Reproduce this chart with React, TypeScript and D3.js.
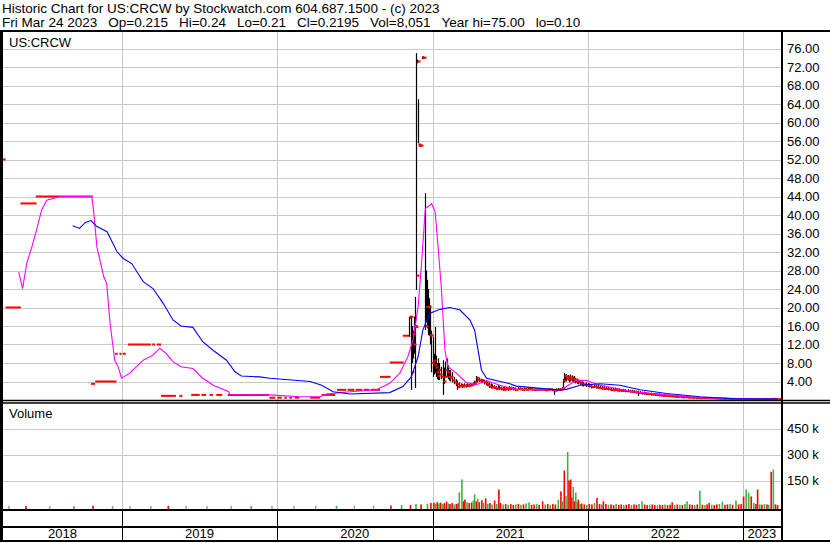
import React from "react";
import * as d3 from "d3";

// ---------- DATA ----------
const header1 = "Historic Chart for US:CRCW by Stockwatch.com 604.687.1500 - (c) 2023";
const header2 = "Fri Mar 24 2023  Op=0.215  Hi=0.24  Lo=0.21  Cl=0.2195  Vol=8,051  Year hi=75.00  lo=0.10";
const symbol = "US:CRCW";
const priceTicks = [4, 8, 12, 16, 20, 24, 28, 32, 36, 40, 44, 48, 52, 56, 60, 64, 68, 72, 76];
const volumeTicks = [150000, 300000, 450000];
const years = ["2018", "2019", "2020", "2021", "2022", "2023"];

// flat close runs during thin trading: [start, end, close]
const closeRuns: [string, string, number][] = [
  ["2018-03-24", "2018-04-02", 52],
  ["2018-04-02", "2018-05-08", 20],
  ["2018-05-07", "2018-06-14", 42.5],
  ["2018-06-12", "2018-10-24", 44],
  ["2018-10-20", "2018-10-30", 3.5],
  ["2018-10-30", "2018-12-19", 4.0],
  ["2018-12-16", "2018-12-22", 10],
  ["2018-12-26", "2018-12-31", 10],
  ["2019-01-03", "2019-01-10", 10],
  ["2019-01-15", "2019-03-10", 12],
  ["2019-03-13", "2019-03-20", 12],
  ["2019-03-24", "2019-04-03", 12],
  ["2019-04-03", "2019-05-08", 0.9],
  ["2019-05-16", "2019-05-23", 0.9],
  ["2019-06-13", "2019-07-03", 1.1],
  ["2019-07-07", "2019-07-18", 1.1],
  ["2019-07-26", "2019-08-03", 1.1],
  ["2019-08-11", "2019-08-25", 1.1],
  ["2019-09-07", "2019-12-13", 1.1],
  ["2019-12-14", "2019-12-28", 0.5],
  ["2020-01-02", "2020-01-12", 0.5],
  ["2020-01-18", "2020-01-24", 0.5],
  ["2020-01-30", "2020-02-05", 0.5],
  ["2020-02-12", "2020-02-22", 0.5],
  ["2020-03-19", "2020-04-11", 0.5],
  ["2020-04-15", "2020-05-17", 1.1],
  ["2020-05-21", "2020-06-12", 2.2],
  ["2020-06-15", "2020-07-01", 2.2],
  ["2020-07-04", "2020-07-20", 2.2],
  ["2020-07-23", "2020-08-05", 2.2],
  ["2020-08-08", "2020-08-30", 2.2],
  ["2020-08-30", "2020-09-24", 5.0],
  ["2020-09-22", "2020-10-25", 8.1],
  ["2020-10-23", "2020-11-08", 13.9],
];

// daily bars: [date, high, low, close]
const bars: [string, number, number, number][] = [
  ["2020-11-06", 18.0, 13.7, 17.9],
  ["2020-11-09", 18.2, 17.6, 18.0],
  ["2020-11-12", 18.0, 2.2, 6.0],
  ["2020-11-14", 16.0, 8.0, 14.2],
  ["2020-11-17", 15.0, 9.0, 12.0],
  ["2020-11-19", 18.0, 10.0, 16.0],
  ["2020-11-21", 22.3, 2.6, 15.8],
  ["2020-11-23", 75.0, 23.8, 26.9],
  ["2020-11-26", 73.6, 72.8, 73.2],
  ["2020-11-28", 65.0, 55.5, 55.2],
  ["2020-12-01", 55.4, 54.8, 55.0],
  ["2020-12-03", 55.4, 54.8, 55.0],
  ["2020-12-07", 74.3, 73.7, 74.0],
  ["2020-12-10", 74.3, 73.7, 74.0],
  ["2020-12-15", 44.7, 15.1, 16.0],
  ["2020-12-16", 28.0, 17.0, 20.1],
  ["2020-12-18", 26.0, 15.5, 20.1],
  ["2020-12-21", 24.0, 14.0, 20.1],
  ["2020-12-23", 22.0, 13.9, 13.9],
  ["2020-12-26", 20.5, 12.0, 14.0],
  ["2020-12-29", 15.0, 6.0, 8.0],
  ["2021-01-01", 13.7, 5.0, 8.5],
  ["2021-01-04", 10.0, 5.5, 7.5],
  ["2021-01-07", 15.8, 5.8, 7.0],
  ["2021-01-09", 9.6, 5.0, 6.0],
  ["2021-01-12", 8.0, 4.5, 5.2],
  ["2021-01-14", 9.0, 4.3, 6.5],
  ["2021-01-17", 8.0, 4.3, 5.5],
  ["2021-01-20", 7.2, 4.5, 5.0],
  ["2021-01-26", 8.6, 1.1, 4.0],
  ["2021-01-28", 7.0, 3.5, 5.0],
  ["2021-01-31", 8.3, 5.0, 6.5],
  ["2021-02-03", 9.0, 5.0, 6.0],
  ["2021-02-06", 7.5, 4.5, 5.0],
  ["2021-02-09", 6.5, 4.2, 4.8],
  ["2021-02-12", 6.5, 4.0, 5.0],
  ["2021-02-16", 6.0, 3.8, 4.2],
  ["2021-02-20", 5.0, 3.4, 3.8],
  ["2021-02-24", 4.5, 3.0, 3.4],
  ["2021-02-28", 4.2, 2.2, 2.8],
  ["2021-03-04", 3.8, 2.6, 3.0],
  ["2021-03-08", 3.6, 2.8, 3.2],
  ["2021-03-12", 3.5, 2.6, 2.9],
  ["2021-03-16", 3.6, 2.8, 3.1],
  ["2021-03-20", 3.4, 2.7, 3.0],
  ["2021-03-24", 3.6, 2.9, 3.2],
  ["2021-03-28", 3.5, 2.8, 3.1],
  ["2021-04-01", 3.6, 3.0, 3.3],
  ["2021-04-05", 3.8, 3.0, 3.5],
  ["2021-04-09", 4.2, 3.3, 3.9],
  ["2021-04-13", 5.2, 3.6, 4.8],
  ["2021-04-16", 5.0, 3.8, 4.4],
  ["2021-04-20", 4.8, 3.9, 4.2],
  ["2021-04-24", 4.6, 3.8, 4.3],
  ["2021-04-28", 4.5, 3.7, 4.0],
  ["2021-05-02", 4.3, 3.4, 3.8],
  ["2021-05-06", 4.2, 3.2, 3.5],
  ["2021-05-10", 4.0, 3.0, 3.2],
  ["2021-05-14", 3.8, 2.6, 2.9],
  ["2021-05-18", 3.6, 2.5, 2.7],
  ["2021-05-22", 3.4, 2.5, 2.8],
  ["2021-05-26", 3.2, 2.4, 2.6],
  ["2021-05-30", 3.0, 2.2, 2.4],
  ["2021-06-03", 3.2, 2.3, 2.6],
  ["2021-06-07", 3.0, 2.2, 2.5],
  ["2021-06-11", 2.9, 2.1, 2.3],
  ["2021-06-15", 2.8, 2.0, 2.2],
  ["2021-06-19", 2.9, 2.2, 2.5],
  ["2021-06-23", 2.8, 2.1, 2.4],
  ["2021-06-27", 2.7, 2.0, 2.3],
  ["2021-07-01", 3.0, 2.2, 2.6],
  ["2021-07-05", 2.9, 2.2, 2.5],
  ["2021-07-10", 2.8, 2.1, 2.3],
  ["2021-07-15", 2.7, 2.0, 2.2],
  ["2021-07-20", 2.8, 2.2, 2.4],
  ["2021-07-25", 2.7, 2.1, 2.3],
  ["2021-07-30", 2.6, 2.0, 2.2],
  ["2021-08-04", 2.7, 2.1, 2.4],
  ["2021-08-09", 2.6, 2.0, 2.2],
  ["2021-08-14", 2.7, 2.2, 2.4],
  ["2021-08-19", 2.6, 2.1, 2.3],
  ["2021-08-24", 2.6, 2.0, 2.2],
  ["2021-08-29", 2.5, 2.0, 2.2],
  ["2021-09-03", 2.6, 2.1, 2.3],
  ["2021-09-08", 2.5, 2.0, 2.2],
  ["2021-09-13", 2.6, 2.1, 2.3],
  ["2021-09-18", 2.5, 2.0, 2.2],
  ["2021-09-23", 2.4, 1.9, 2.1],
  ["2021-09-28", 2.5, 2.0, 2.2],
  ["2021-10-03", 2.6, 2.0, 2.3],
  ["2021-10-08", 2.5, 1.9, 2.1],
  ["2021-10-13", 2.4, 1.1, 2.0],
  ["2021-10-18", 2.5, 2.0, 2.2],
  ["2021-10-23", 2.6, 2.0, 2.3],
  ["2021-10-28", 2.5, 2.0, 2.2],
  ["2021-11-01", 2.8, 2.2, 2.6],
  ["2021-11-04", 4.5, 2.5, 4.2],
  ["2021-11-06", 5.8, 3.8, 5.2],
  ["2021-11-09", 5.5, 4.2, 5.0],
  ["2021-11-12", 5.6, 4.0, 4.6],
  ["2021-11-15", 5.4, 4.2, 5.0],
  ["2021-11-18", 5.2, 3.8, 4.4],
  ["2021-11-21", 5.5, 4.0, 4.8],
  ["2021-11-24", 5.3, 4.0, 4.5],
  ["2021-11-27", 5.0, 3.8, 4.3],
  ["2021-11-30", 5.2, 3.8, 4.4],
  ["2021-12-03", 4.8, 3.6, 4.0],
  ["2021-12-06", 4.6, 3.5, 4.1],
  ["2021-12-10", 4.4, 3.4, 3.8],
  ["2021-12-14", 4.3, 3.2, 3.6],
  ["2021-12-18", 4.1, 3.0, 3.4],
  ["2021-12-22", 3.9, 2.9, 3.3],
  ["2021-12-27", 3.8, 2.8, 3.2],
  ["2022-01-01", 3.7, 2.8, 3.1],
  ["2022-01-05", 3.6, 2.7, 3.0],
  ["2022-01-10", 3.5, 2.5, 2.8],
  ["2022-01-15", 3.4, 2.6, 2.9],
  ["2022-01-20", 3.3, 2.5, 2.7],
  ["2022-01-25", 3.2, 2.4, 2.6],
  ["2022-01-30", 3.2, 2.4, 2.5],
  ["2022-02-04", 3.0, 2.3, 2.5],
  ["2022-02-09", 3.1, 2.2, 2.4],
  ["2022-02-14", 2.9, 2.2, 2.4],
  ["2022-02-19", 2.8, 2.1, 2.3],
  ["2022-02-24", 2.7, 2.0, 2.2],
  ["2022-03-01", 2.6, 1.9, 2.1],
  ["2022-03-06", 2.7, 2.0, 2.2],
  ["2022-03-11", 2.5, 1.9, 2.0],
  ["2022-03-16", 2.5, 1.9, 2.1],
  ["2022-03-21", 2.4, 1.8, 2.0],
  ["2022-03-26", 2.4, 1.8, 2.0],
  ["2022-03-31", 2.3, 1.7, 1.9],
  ["2022-04-05", 2.3, 1.7, 1.9],
  ["2022-04-10", 2.2, 1.6, 1.8],
  ["2022-04-15", 2.2, 1.6, 1.8],
  ["2022-04-20", 2.1, 1.5, 1.7],
  ["2022-04-25", 2.0, 1.4, 1.6],
  ["2022-04-29", 2.0, 0.9, 1.5],
  ["2022-05-04", 1.9, 1.3, 1.5],
  ["2022-05-09", 1.8, 1.2, 1.4],
  ["2022-05-14", 1.8, 1.2, 1.4],
  ["2022-05-19", 1.7, 1.1, 1.3],
  ["2022-05-24", 1.6, 1.1, 1.3],
  ["2022-05-29", 1.6, 1.0, 1.2],
  ["2022-06-03", 1.5, 1.0, 1.2],
  ["2022-06-08", 1.5, 0.9, 1.1],
  ["2022-06-13", 1.4, 0.9, 1.1],
  ["2022-06-18", 1.4, 0.8, 1.0],
  ["2022-06-23", 1.3, 0.8, 1.0],
  ["2022-06-28", 1.3, 0.7, 0.9],
  ["2022-07-03", 1.2, 0.8, 0.9],
  ["2022-07-08", 1.2, 0.7, 0.9],
  ["2022-07-13", 1.1, 0.6, 0.8],
  ["2022-07-18", 1.1, 0.6, 0.8],
  ["2022-07-23", 1.0, 0.6, 0.7],
  ["2022-07-28", 1.0, 0.5, 0.7],
  ["2022-08-02", 1.0, 0.5, 0.7],
  ["2022-08-08", 0.9, 0.5, 0.6],
  ["2022-08-14", 0.9, 0.4, 0.6],
  ["2022-08-20", 0.8, 0.4, 0.6],
  ["2022-08-26", 0.8, 0.4, 0.5],
  ["2022-09-01", 0.7, 0.4, 0.5],
  ["2022-09-07", 0.7, 0.3, 0.5],
  ["2022-09-13", 0.7, 0.3, 0.4],
  ["2022-09-19", 0.6, 0.3, 0.4],
  ["2022-09-25", 0.6, 0.3, 0.4],
  ["2022-10-01", 0.6, 0.3, 0.4],
  ["2022-10-08", 0.5, 0.3, 0.4],
  ["2022-10-15", 0.5, 0.3, 0.35],
  ["2022-10-22", 0.5, 0.25, 0.35],
  ["2022-10-29", 0.45, 0.25, 0.3],
  ["2022-11-05", 0.45, 0.25, 0.3],
  ["2022-11-12", 0.4, 0.2, 0.3],
  ["2022-11-19", 0.4, 0.2, 0.3],
  ["2022-11-26", 0.4, 0.2, 0.25],
  ["2022-12-03", 0.35, 0.2, 0.25],
  ["2022-12-10", 0.35, 0.18, 0.25],
  ["2022-12-17", 0.3, 0.15, 0.2],
  ["2022-12-24", 0.3, 0.15, 0.2],
  ["2022-12-31", 0.3, 0.15, 0.2],
  ["2023-01-07", 0.3, 0.15, 0.2],
  ["2023-01-14", 0.28, 0.12, 0.2],
  ["2023-01-21", 0.28, 0.12, 0.18],
  ["2023-01-28", 0.25, 0.12, 0.18],
  ["2023-02-04", 0.3, 0.12, 0.2],
  ["2023-02-11", 0.28, 0.12, 0.2],
  ["2023-02-18", 0.3, 0.15, 0.22],
  ["2023-02-25", 0.28, 0.14, 0.2],
  ["2023-03-04", 0.3, 0.15, 0.22],
  ["2023-03-11", 0.35, 0.15, 0.25],
  ["2023-03-18", 0.3, 0.18, 0.22],
  ["2023-03-24", 0.24, 0.21, 0.2195],
];

// short moving average (magenta)
const maShort: [string, number][] = [
  ["2018-05-03", 27.7], ["2018-05-12", 24.1], ["2018-05-22", 29.6], ["2018-06-03", 33.1],
  ["2018-06-14", 36.8], ["2018-06-26", 41.1], ["2018-07-08", 43.2], ["2018-08-09", 44.0],
  ["2018-10-22", 44.0], ["2018-10-26", 41.1], ["2018-11-03", 33.1], ["2018-11-19", 26.7],
  ["2018-11-26", 25.2], ["2018-12-04", 16.6], ["2018-12-15", 8.6], ["2018-12-23", 7.2],
  ["2018-12-31", 4.7], ["2019-01-19", 5.8], ["2019-02-20", 8.6], ["2019-03-15", 9.7],
  ["2019-03-31", 11.2], ["2019-04-15", 10.1], ["2019-05-01", 8.3], ["2019-05-20", 7.2],
  ["2019-06-17", 6.8], ["2019-07-10", 4.7], ["2019-08-04", 3.2], ["2019-09-09", 1.8],
  ["2019-09-12", 1.2], ["2019-12-15", 1.1], ["2020-02-24", 0.7], ["2020-04-11", 0.7],
  ["2020-04-27", 1.3], ["2020-06-21", 1.8], ["2020-08-22", 2.2], ["2020-09-22", 3.6],
  ["2020-10-16", 5.8], ["2020-11-04", 9.4], ["2020-11-16", 13.0], ["2020-11-28", 20.2],
  ["2020-12-06", 29.5], ["2020-12-15", 41.4], ["2020-12-30", 42.4], ["2021-01-07", 40.7],
  ["2021-01-14", 33.1], ["2021-01-22", 23.8], ["2021-01-30", 10.8], ["2021-02-06", 7.2],
  ["2021-02-26", 5.8], ["2021-03-21", 3.8], ["2021-04-14", 3.3], ["2021-05-08", 4.2],
  ["2021-06-08", 3.2], ["2021-07-17", 2.3], ["2021-10-28", 2.2], ["2021-11-12", 2.9],
  ["2021-12-06", 4.3], ["2021-12-30", 4.2], ["2022-01-30", 3.2], ["2022-04-18", 1.8],
  ["2022-07-06", 1.1], ["2022-09-22", 0.5], ["2022-12-08", 0.2], ["2023-03-24", 0.2],
];

// long moving average (blue)
const maLong: [string, number][] = [
  ["2018-09-07", 37.7], ["2018-09-23", 37.1], ["2018-10-07", 38.4], ["2018-10-20", 38.8],
  ["2018-11-03", 37.5], ["2018-11-27", 36.4], ["2018-12-20", 32.1], ["2019-01-04", 30.6],
  ["2019-01-24", 29.5], ["2019-02-20", 25.6], ["2019-03-15", 24.1], ["2019-04-08", 20.9],
  ["2019-05-01", 17.3], ["2019-05-20", 16.0], ["2019-06-17", 15.7], ["2019-07-10", 12.6],
  ["2019-08-04", 10.7], ["2019-09-04", 8.6], ["2019-09-24", 6.1], ["2019-10-09", 5.2],
  ["2019-11-21", 5.0], ["2019-12-15", 4.7], ["2020-03-19", 4.0], ["2020-04-15", 3.2],
  ["2020-05-12", 1.8], ["2020-06-21", 1.3], ["2020-09-22", 1.6], ["2020-10-23", 2.9],
  ["2020-11-12", 5.0], ["2020-11-28", 9.4], ["2020-12-09", 15.1], ["2020-12-25", 18.7],
  ["2021-01-18", 19.6], ["2021-02-10", 20.0], ["2021-03-06", 19.5], ["2021-03-30", 17.3],
  ["2021-04-10", 15.1], ["2021-04-18", 10.8], ["2021-04-26", 6.5], ["2021-05-08", 4.7],
  ["2021-07-02", 3.5], ["2021-07-17", 3.0], ["2021-10-20", 2.2], ["2021-11-12", 2.3],
  ["2021-12-14", 3.2], ["2022-01-30", 3.5], ["2022-03-18", 3.2], ["2022-05-04", 2.2],
  ["2022-07-06", 1.4], ["2022-09-22", 0.7], ["2022-12-08", 0.3], ["2023-03-24", 0.2],
];

// volume: [date, volume, direction 1=up, -1=down, 0=unchanged]
const volumes: [string, number, number][] = [
  ["2018-04-10", 4000, 0], ["2018-05-20", 3000, -1], ["2018-07-15", 2500, 0], ["2018-09-10", 3000, 1],
  ["2018-10-25", 5000, -1], ["2018-12-10", 3000, 0], ["2019-01-20", 2500, 0], ["2019-03-10", 3500, 0],
  ["2019-04-20", 4000, -1], ["2019-06-01", 3000, 0], ["2019-07-20", 3500, 0], ["2019-09-15", 4000, 0],
  ["2019-11-01", 3000, 1], ["2019-12-20", 3500, 0], ["2020-02-10", 3000, 0], ["2020-04-01", 4000, 0],
  ["2020-05-20", 4500, 1], ["2020-07-01", 4000, 0], ["2020-08-15", 5000, 0], ["2020-09-25", 6000, -1],
  ["2020-10-20", 8000, 1], ["2020-11-10", 9000, -1], ["2020-11-23", 14000, 1], ["2020-12-05", 12000, -1],
  ["2020-12-20", 15000, 1], ["2020-12-28", 20000, -1], ["2021-01-04", 22000, -1], ["2021-01-08", 15000, 1],
  ["2021-01-12", 25000, -1], ["2021-01-16", 18000, 1], ["2021-01-20", 22000, -1], ["2021-01-25", 15000, 1],
  ["2021-01-29", 20000, -1], ["2021-02-03", 28000, -1], ["2021-02-07", 18000, 1], ["2021-02-11", 14000, -1],
  ["2021-02-16", 20000, -1], ["2021-02-21", 12000, 1], ["2021-02-26", 15000, -1], ["2021-03-02", 18000, -1],
  ["2021-03-05", 82000, 1], ["2021-03-11", 156000, 1], ["2021-03-15", 30000, -1], ["2021-03-18", 40000, -1],
  ["2021-03-23", 25000, 1], ["2021-03-28", 20000, -1], ["2021-04-03", 22000, -1], ["2021-04-07", 35000, 1],
  ["2021-04-10", 70000, 1], ["2021-04-14", 30000, -1], ["2021-04-17", 45000, 1], ["2021-04-21", 25000, -1],
  ["2021-04-27", 36000, -1], ["2021-05-01", 20000, 1], ["2021-05-06", 47000, -1], ["2021-05-11", 15000, 1],
  ["2021-05-16", 20000, -1], ["2021-05-21", 12000, 1], ["2021-05-27", 35000, -1], ["2021-06-01", 15000, 1],
  ["2021-06-06", 98000, -1], ["2021-06-10", 20000, -1], ["2021-06-16", 12000, 1], ["2021-06-22", 15000, -1],
  ["2021-06-28", 10000, 1], ["2021-07-04", 14000, -1], ["2021-07-10", 9000, -1], ["2021-07-16", 12000, 1],
  ["2021-07-22", 15000, -1], ["2021-07-28", 10000, 1], ["2021-08-03", 12000, -1], ["2021-08-09", 18000, 1],
  ["2021-08-16", 24000, 1], ["2021-08-22", 10000, -1], ["2021-08-28", 12000, -1], ["2021-09-03", 15000, 1],
  ["2021-09-09", 10000, -1], ["2021-09-17", 30000, -1], ["2021-09-23", 12000, 1], ["2021-09-29", 15000, -1],
  ["2021-10-05", 10000, 1], ["2021-10-11", 14000, -1], ["2021-10-17", 12000, -1], ["2021-10-24", 40000, 1],
  ["2021-10-30", 87000, -1], ["2021-11-03", 30000, 1], ["2021-11-07", 207000, -1], ["2021-11-11", 60000, 1],
  ["2021-11-15", 315000, 1], ["2021-11-18", 150000, -1], ["2021-11-22", 156000, -1], ["2021-11-25", 50000, -1],
  ["2021-11-28", 113000, 1], ["2021-12-01", 30000, -1], ["2021-12-04", 80000, 1], ["2021-12-07", 25000, 1],
  ["2021-12-10", 40000, -1], ["2021-12-14", 15000, 1], ["2021-12-18", 17000, -1], ["2021-12-24", 12000, -1],
  ["2021-12-30", 10000, 1], ["2022-01-05", 15000, -1], ["2022-01-11", 12000, -1], ["2022-01-17", 20000, 1],
  ["2022-01-23", 50000, -1], ["2022-01-29", 14000, -1], ["2022-02-03", 12000, 1], ["2022-02-07", 30000, -1],
  ["2022-02-13", 15000, -1], ["2022-02-19", 10000, 1], ["2022-02-25", 12000, -1], ["2022-03-03", 8000, -1],
  ["2022-03-09", 15000, 1], ["2022-03-15", 10000, -1], ["2022-03-21", 12000, -1], ["2022-03-27", 8000, 1],
  ["2022-04-02", 10000, -1], ["2022-04-08", 14000, -1], ["2022-04-14", 8000, 1], ["2022-04-20", 12000, -1],
  ["2022-04-26", 10000, -1], ["2022-05-02", 15000, 1], ["2022-05-09", 30000, 1], ["2022-05-15", 12000, -1],
  ["2022-05-21", 8000, -1], ["2022-05-27", 10000, 1], ["2022-06-02", 12000, -1], ["2022-06-08", 8000, -1],
  ["2022-06-14", 6000, 1], ["2022-06-20", 10000, -1], ["2022-06-26", 8000, -1], ["2022-07-02", 12000, 1],
  ["2022-07-08", 8000, -1], ["2022-07-14", 10000, -1], ["2022-07-19", 24000, -1], ["2022-07-25", 8000, 1],
  ["2022-07-31", 12000, -1], ["2022-08-06", 10000, 1], ["2022-08-12", 8000, -1], ["2022-08-18", 15000, 1],
  ["2022-08-23", 30000, 1], ["2022-08-29", 12000, -1], ["2022-09-04", 10000, -1], ["2022-09-10", 8000, 1],
  ["2022-09-16", 12000, -1], ["2022-09-22", 92000, 1], ["2022-09-28", 10000, -1], ["2022-10-04", 8000, 1],
  ["2022-10-09", 12000, -1], ["2022-10-14", 20000, -1], ["2022-10-20", 10000, 1], ["2022-10-26", 8000, -1],
  ["2022-11-01", 12000, -1], ["2022-11-07", 15000, 1], ["2022-11-14", 28000, 1], ["2022-11-20", 10000, -1],
  ["2022-11-26", 12000, -1], ["2022-12-02", 15000, 1], ["2022-12-08", 10000, -1], ["2022-12-16", 35000, 1],
  ["2022-12-22", 12000, -1], ["2022-12-28", 15000, -1], ["2023-01-03", 58000, -1], ["2023-01-09", 98000, 1],
  ["2023-01-15", 80000, 1], ["2023-01-21", 58000, -1], ["2023-01-27", 20000, 1], ["2023-02-01", 15000, -1],
  ["2023-02-05", 98000, -1], ["2023-02-10", 12000, 1], ["2023-02-15", 10000, -1], ["2023-02-21", 15000, 1],
  ["2023-02-27", 12000, -1], ["2023-03-03", 10000, 1], ["2023-03-09", 200000, -1], ["2023-03-14", 213000, 1],
  ["2023-03-19", 12000, -1], ["2023-03-24", 8051, -1],
];

// ---------- LAYOUT ----------
const W = 830, H = 543;
const L = 3, R = 781;
const priceTop = 31, priceBottom = 400;
const volTop = 403, volBottom = 510;
const stripBottom = 527, chartBottom = 541;
const FONT = "Arial, 'Liberation Sans', sans-serif";

const parse = d3.timeParse("%Y-%m-%d");
const pd = (s: string) => parse(s) as Date;

export default function App() {
  const x = d3.scaleTime().domain([pd("2018-03-27"), pd("2023-04-01")]).range([L, R]);
  const yP = d3.scaleLinear().domain([0, 76]).range([priceBottom, 48.5]);
  const yV = d3.scaleLinear().domain([0, 450000]).range([506.5, 428.5]);

  const yearStarts = years.map((y) => pd(`${y}-01-01`));
  const boundaries = yearStarts.slice(1).map((d) => x(d));
  const yearCenters = years.map((y, i) => {
    const a = Math.max(L, x(yearStarts[i]));
    const b = i < years.length - 1 ? x(yearStarts[i + 1]) : R;
    return (a + b) / 2;
  });

  const line = d3
    .line<[string, number]>()
    .x((d) => x(pd(d[0])))
    .y((d) => yP(d[1]));

  const grid = "#c8c8c8";
  const greenVol = "#44b044";
  const headerParts = header2.split("  ");

  return (
    <svg
      width={W}
      height={H}
      style={{ position: "absolute", left: 0, top: 0, background: "#fff" }}
      fontFamily={FONT}
    >
      <defs>
        <clipPath id="priceClip">
          <rect x={L} y={priceTop + 1} width={R - L} height={priceBottom - priceTop - 1} />
        </clipPath>
        <clipPath id="volClip">
          <rect x={L} y={volTop + 1} width={R - L} height={volBottom - volTop - 2} />
        </clipPath>
      </defs>
      <rect x={0} y={0} width={W} height={H} fill="#fff" />

      {/* header */}
      <text x={2} y={13} fontSize={13.5} fill="#000">{header1}</text>
      <text x={2} y={26.5} fontSize={13.5} fill="#000">
        {headerParts.map((p, i) => (
          <tspan key={"hp" + i} dx={i === 0 ? 0 : 11}>{p}</tspan>
        ))}
      </text>

      {/* gridlines */}
      {priceTicks.map((t) => (
        <line key={"pg" + t} x1={L} x2={R} y1={Math.round(yP(t)) + 0.5} y2={Math.round(yP(t)) + 0.5} stroke={grid} />
      ))}
      {boundaries.map((bx, i) => (
        <line key={"vg" + i} x1={Math.round(bx) + 0.5} x2={Math.round(bx) + 0.5} y1={priceTop} y2={volBottom} stroke={grid} />
      ))}
      {volumeTicks.map((t) => (
        <line key={"vgr" + t} x1={L} x2={R} y1={Math.round(yV(t)) + 0.5} y2={Math.round(yV(t)) + 0.5} stroke={grid} />
      ))}

      {/* price marks */}
      <g clipPath="url(#priceClip)">
        {closeRuns.map((r, i) => (
          <line key={"cr" + i} x1={x(pd(r[0]))} x2={x(pd(r[1]))} y1={yP(r[2])} y2={yP(r[2])} stroke="#ff0000" strokeWidth={2} />
        ))}
        {bars.map((b, i) => {
          const bx = Math.round(x(pd(b[0]))) + 0.5;
          return <line key={"hl" + i} x1={bx} x2={bx} y1={yP(b[1])} y2={yP(b[2])} stroke="#000" strokeWidth={1.2} />;
        })}
        {bars.map((b, i) => {
          const bx = Math.round(x(pd(b[0]))) + 0.5;
          return <line key={"ct" + i} x1={bx} x2={bx + 3} y1={yP(b[3])} y2={yP(b[3])} stroke="#ff0000" strokeWidth={2} />;
        })}
        <path d={line(maShort) || ""} fill="none" stroke="#ff00ff" strokeWidth={1.1} />
        <path d={line(maLong) || ""} fill="none" stroke="#0000ff" strokeWidth={1.1} />
      </g>

      {/* volume */}
      <g clipPath="url(#volClip)">
        {volumes.map((v, i) => {
          const vx = x(pd(v[0]));
          const col = v[2] > 0 ? greenVol : v[2] < 0 ? "#ff0000" : "#a0a0a0";
          const top = Math.min(yV(v[1]), volBottom - 2);
          return <rect key={"v" + i} x={vx - 0.8} width={1.6} y={top} height={volBottom - top} fill={col} />;
        })}
      </g>

      {/* labels */}
      <text x={9} y={47} fontSize={13} fill="#000">{symbol}</text>
      <text x={9} y={418} fontSize={13} fill="#000">Volume</text>
      {priceTicks.map((t) => (
        <text key={"pl" + t} x={787} y={yP(t) + 4.5} fontSize={13} fill="#000">{t.toFixed(2)}</text>
      ))}
      {volumeTicks.map((t) => (
        <text key={"vl" + t} x={787} y={yV(t) + 4.5} fontSize={13} fill="#000">{`${t / 1000} k`}</text>
      ))}
      {years.map((y, i) => (
        <text key={"yr" + y} x={yearCenters[i]} y={538} fontSize={13} textAnchor="middle" fill="#000">{y}</text>
      ))}

      {/* frame */}
      <g stroke="#000" fill="none">
        <line x1={0} x2={W} y1={31} y2={31} strokeWidth={2} />
        <line x1={1.5} x2={1.5} y1={31} y2={chartBottom + 1} strokeWidth={3} />
        <line x1={R + 1} x2={R + 1} y1={31} y2={chartBottom + 1} strokeWidth={2} />
        <line x1={0} x2={W} y1={priceBottom + 0.5} y2={priceBottom + 0.5} strokeWidth={1.5} />
        <line x1={0} x2={W} y1={volTop} y2={volTop} strokeWidth={1.5} />
        <line x1={0} x2={R + 1} y1={volBottom} y2={volBottom} strokeWidth={2} />
        <line x1={0} x2={R + 1} y1={stripBottom} y2={stripBottom} strokeWidth={2} />
        <line x1={0} x2={W} y1={chartBottom} y2={chartBottom} strokeWidth={2} />
        {boundaries.map((bx, i) => (
          <line key={"sep" + i} x1={Math.round(bx) + 0.5} x2={Math.round(bx) + 0.5} y1={volBottom} y2={chartBottom} strokeWidth={1} />
        ))}
      </g>
    </svg>
  );
}
